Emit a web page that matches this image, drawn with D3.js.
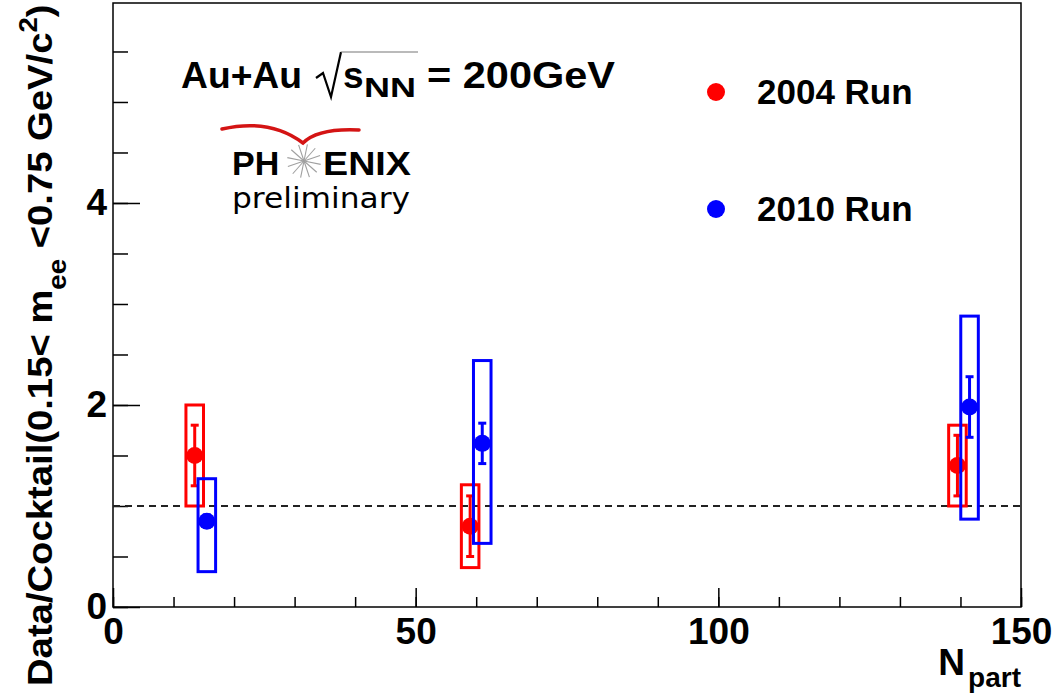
<!DOCTYPE html>
<html>
<head>
<meta charset="utf-8">
<script src="https://cdn.jsdelivr.net/npm/d3@7"></script>
<style>
  body { margin: 0; background: #fff; }
  svg { display: block; font-family: "Liberation Sans", Arial, sans-serif; }
  .axis path.domain { display: none; }
  .axis line { stroke: #000; stroke-width: 1.5; }
  .axis text { font-size: 37px; font-weight: bold; fill: #000; }
</style>
</head>
<body>
<svg width="1056" height="694"></svg>
<script>
// data
var npart2004 = [13.5, 59.0, 139.5];
var ratio2004 = [1.50, 0.80, 1.40];
var stat2004 = [0.30, 0.30, 0.30];
var sysUp2004 = [0.50, 0.41, 0.40];
var sysDown2004 = [0.50, 0.41, 0.40];

var npart2010 = [15.5, 61.0, 141.5];
var ratio2010 = [0.85, 1.62, 1.98];
var stat2010 = [0.06, 0.20, 0.30];
var sysUp2010 = [0.42, 0.82, 0.90];
var sysDown2010 = [0.50, 0.99, 1.11];

var xMajor = [0, 50, 100, 150];
var xMinor = d3.range(0, 151, 10);
var yMajor = [0, 2, 4];
var yMinor = d3.range(0, 6, 0.5);
var refLine = 1;

var svg = d3.select("svg");

var x = d3.scaleLinear().domain([0, 150]).range([113, 1021]);
var y = d3.scaleLinear().domain([0, 5.98]).range([607, 3]);

// minor ticks
svg.append("g").attr("class", "axis")
    .attr("transform", "translate(0,607)")
    .call(d3.axisBottom(x).tickValues(xMinor).tickSize(-10).tickSizeOuter(0).tickFormat(""));
svg.append("g").attr("class", "axis")
    .attr("transform", "translate(113,0)")
    .call(d3.axisLeft(y).tickValues(yMinor).tickSize(-15).tickSizeOuter(0).tickFormat(""));

// major ticks + labels
svg.append("g").attr("class", "axis")
    .attr("transform", "translate(0,607)")
    .call(d3.axisBottom(x).tickValues(xMajor).tickSize(-19).tickSizeOuter(0).tickPadding(11).tickFormat(d3.format("d")));
svg.append("g").attr("class", "axis")
    .attr("transform", "translate(113,0)")
    .call(d3.axisLeft(y).tickValues(yMajor).tickSize(-27).tickSizeOuter(0).tickPadding(6).tickFormat(d3.format("d")));

// frame
svg.append("rect")
    .attr("x", x(0)).attr("y", y(5.98))
    .attr("width", x(150) - x(0)).attr("height", y(0) - y(5.98))
    .attr("fill", "none").attr("stroke", "#000").attr("stroke-width", 1.5);

// dashed line at 1
svg.append("line")
    .attr("x1", x(0)).attr("x2", x(150))
    .attr("y1", y(refLine)).attr("y2", y(refLine))
    .attr("stroke", "#222").attr("stroke-width", 2)
    .attr("stroke-dasharray", "7,5");

function drawSeries(npart, ratio, stat, up, down, col) {
    var g = svg.append("g");
    var half = 1.45;
    g.selectAll(".sys").data(npart).enter().append("rect")
        .attr("x", function(d) { return x(d - half); })
        .attr("width", function(d) { return x(d + half) - x(d - half); })
        .attr("y", function(d, i) { return y(ratio[i] + up[i]); })
        .attr("height", function(d, i) { return y(ratio[i] - down[i]) - y(ratio[i] + up[i]); })
        .attr("fill", "none").attr("stroke", col).attr("stroke-width", 3);
    g.selectAll(".err").data(npart).enter().append("line")
        .attr("x1", function(d) { return x(d); }).attr("x2", function(d) { return x(d); })
        .attr("y1", function(d, i) { return y(ratio[i] + stat[i]); })
        .attr("y2", function(d, i) { return y(ratio[i] - stat[i]); })
        .attr("stroke", col).attr("stroke-width", 3);
    [1, -1].forEach(function(s) {
        g.selectAll(".cap" + s).data(npart).enter().append("line")
            .attr("x1", function(d) { return x(d) - 4; }).attr("x2", function(d) { return x(d) + 4; })
            .attr("y1", function(d, i) { return y(ratio[i] + s * stat[i]); })
            .attr("y2", function(d, i) { return y(ratio[i] + s * stat[i]); })
            .attr("stroke", col).attr("stroke-width", 3);
    });
    g.selectAll("circle").data(npart).enter().append("circle")
        .attr("cx", function(d) { return x(d); })
        .attr("cy", function(d, i) { return y(ratio[i]); })
        .attr("r", 8.5).attr("fill", col);
}
drawSeries(npart2004, ratio2004, stat2004, sysUp2004, sysDown2004, "#ff0000");
drawSeries(npart2010, ratio2010, stat2010, sysUp2010, sysDown2010, "#0000ff");

// y axis title, stretched along its length to fit from y=686 up to y=3
var ytg = svg.append("g");
var yt = ytg.append("text")
    .attr("font-size", 36).attr("font-weight", "bold");
yt.append("tspan").text("Data/Cocktail(0.15< m");
yt.append("tspan").attr("font-size", 26).attr("dy", 14).text("ee");
yt.append("tspan").attr("dy", -14).text(" <0.75 GeV/c");
yt.append("tspan").attr("font-size", 26).attr("dy", -15).text("2");
yt.append("tspan").attr("dy", 15).text(")");
var ytLen = yt.node().getBBox().width;
ytg.attr("transform", "translate(52,686) rotate(-90) scale(" + (682 / ytLen) + ",1)");

svg.append("text").attr("x", 965).attr("y", 675).attr("text-anchor", "end")
    .attr("font-size", 37).attr("font-weight", "bold").text("N");
svg.append("text").attr("x", 1021).attr("y", 687).attr("text-anchor", "end")
    .attr("font-size", 28).attr("font-weight", "bold").text("part");

// header
svg.append("text").attr("x", 181).attr("y", 88)
    .attr("font-size", 37).attr("font-weight", "bold")
    .attr("textLength", 121).attr("lengthAdjust", "spacingAndGlyphs").text("Au+Au");
svg.append("path").attr("d", "M316,78 L323,73 L331,97 L341,52")
    .attr("fill", "none").attr("stroke", "#000").attr("stroke-width", 2.2);
svg.append("line").attr("x1", 341).attr("x2", 418).attr("y1", 52).attr("y2", 52)
    .attr("stroke", "#777").attr("stroke-width", 1.2);
svg.append("text").attr("x", 343).attr("y", 88)
    .attr("font-size", 37).attr("font-weight", "bold").text("s");
svg.append("text").attr("x", 364).attr("y", 97)
    .attr("font-size", 27).attr("font-weight", "bold")
    .attr("textLength", 52).attr("lengthAdjust", "spacingAndGlyphs").text("NN");
svg.append("text").attr("x", 427).attr("y", 88)
    .attr("font-size", 37).attr("font-weight", "bold")
    .attr("textLength", 188).attr("lengthAdjust", "spacingAndGlyphs").text("= 200GeV");

// PHENIX logo
svg.append("path").attr("d", "M222,129 Q270,118 303,143 Q318,128 359,130")
    .attr("fill", "none").attr("stroke", "#d41414").attr("stroke-width", 3.5)
    .attr("stroke-linecap", "round");
svg.append("text").attr("x", 232).attr("y", 175)
    .attr("font-size", 34).attr("font-weight", "bold").text("PH");
var star = svg.append("g").attr("transform", "translate(304,161)");
d3.range(12).forEach(function(k) {
    var a = k * Math.PI / 6 + 0.2;
    star.append("line").attr("x1", 0).attr("y1", 0)
        .attr("x2", 17 * Math.cos(a)).attr("y2", 17 * Math.sin(a))
        .attr("stroke", "#a0a0a0").attr("stroke-width", 1.1);
});
svg.append("text").attr("x", 323).attr("y", 175)
    .attr("font-size", 34).attr("font-weight", "bold")
    .attr("textLength", 88).attr("lengthAdjust", "spacingAndGlyphs").text("ENIX");
svg.append("text").attr("x", 232).attr("y", 208)
    .attr("font-family", "DejaVu Sans").attr("font-size", 28)
    .attr("textLength", 178).attr("lengthAdjust", "spacingAndGlyphs").text("preliminary");

// legend
var legendNames = ["2004 Run", "2010 Run"];
var legendColors = ["#ff0000", "#0000ff"];
var legendY = [92, 209];
legendNames.forEach(function(name, i) {
    svg.append("circle").attr("cx", 716).attr("cy", legendY[i]).attr("r", 9).attr("fill", legendColors[i]);
    svg.append("text").attr("x", 757).attr("y", legendY[i] + 12)
        .attr("font-size", 35).attr("font-weight", "bold").text(name);
});
</script>
</body>
</html>
